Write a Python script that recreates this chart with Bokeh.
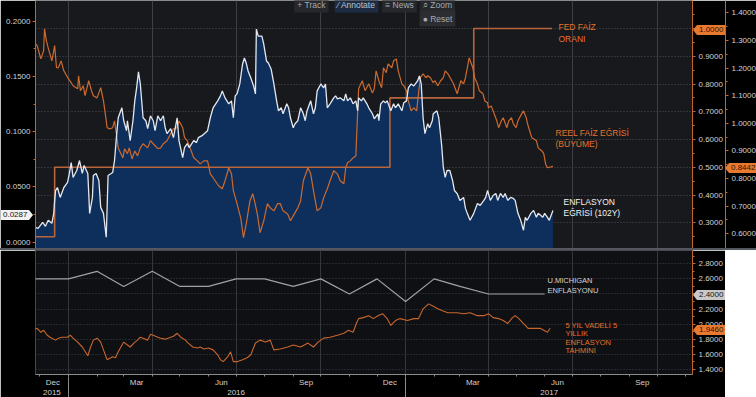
import pandas as pd
from bokeh.plotting import figure
from bokeh.models import (Range1d, LinearAxis, FixedTicker, PrintfTickFormatter,
                          Grid, Label, Div)
from bokeh.layouts import column
from bokeh.embed import file_html
from bokeh.resources import INLINE

ORIGIN = "2016-01-01"   # day offsets below are counted from this date

# ---------------- ENFLASYON EĞRİSİ (102Y)  (left axis) ----------------
enf_day = [-36, -33, -28, -25, -22, -18, -16, -15, -14, -12,
           -9, -5, -1, 1, 3, 5, 9, 12, 15, 17,
           21, 23, 26, 27, 30, 33, 35, 38, 41, 43,
           48, 50, 52, 54, 58, 60, 63, 64, 67, 70,
           72, 74, 76, 78, 81, 84, 86, 89, 92, 94,
           97, 100, 103, 105, 107, 111, 114, 118, 120, 124,
           126, 129, 131, 136, 139, 141, 145, 151, 154, 157,
           162, 165, 167, 170, 174, 177, 179, 181, 183, 186,
           189, 191, 193, 195, 198, 201, 203, 204, 206, 210,
           212, 215, 217, 220, 223, 226, 228, 231, 233, 237,
           239, 241, 244, 246, 249, 252, 255, 257, 259, 263,
           266, 268, 270, 274, 277, 279, 281, 284, 288, 290,
           292, 295, 299, 301, 303, 306, 309, 312, 314, 315,
           318, 320, 324, 326, 330, 332, 336, 337, 339, 342,
           344, 346, 350, 353, 355, 358, 362, 364, 367, 369,
           372, 375, 379, 381, 383, 385, 387, 390, 392, 395,
           396, 400, 402, 405, 407, 409, 411, 414, 417, 419,
           422, 425, 429, 431, 433, 436, 440, 442, 444, 447,
           451, 453, 455, 458, 461, 464, 466, 469, 472, 474,
           477, 480, 483, 485, 488, 491, 494, 496, 498, 502,
           505, 508, 510, 515, 517, 520, 522, 526]
enf_val = [0.0135, 0.0126, 0.0180, 0.0144, 0.0198, 0.0171, 0.0261, 0.0378, 0.0468, 0.0495,
           0.0405, 0.0495, 0.0541, 0.0622, 0.0721, 0.0586, 0.0649, 0.0739, 0.0622, 0.0694,
           0.0622, 0.0261, 0.0405, 0.0604, 0.0622, 0.0559, 0.0315, 0.0261, 0.0045, 0.0604,
           0.0631, 0.0739, 0.0946, 0.1126, 0.1216, 0.1099, 0.1009, 0.1099, 0.0919, 0.1099,
           0.1279, 0.1396, 0.1541, 0.1432, 0.1126, 0.1099, 0.1027, 0.1144, 0.1099, 0.1009,
           0.1144, 0.1099, 0.1144, 0.1036, 0.0982, 0.1027, 0.0946, 0.1126, 0.0919, 0.0766,
           0.0856, 0.0892, 0.0856, 0.0919, 0.0901, 0.0946, 0.0964, 0.1009, 0.1126, 0.1216,
           0.1279, 0.1324, 0.1369, 0.1306, 0.1252, 0.1279, 0.1126, 0.1324, 0.1342, 0.1432,
           0.1612, 0.1667, 0.1621, 0.1549, 0.1486, 0.1414, 0.1342, 0.1928, 0.1865, 0.1865,
           0.1793, 0.1640, 0.1621, 0.1568, 0.1432, 0.1279, 0.1189, 0.1216, 0.1162, 0.1252,
           0.1216, 0.1126, 0.1036, 0.1072, 0.1099, 0.1216, 0.1162, 0.1099, 0.1189, 0.1279,
           0.1162, 0.1216, 0.1369, 0.1432, 0.1396, 0.1432, 0.1216, 0.1252, 0.1306, 0.1324,
           0.1297, 0.1306, 0.1279, 0.1342, 0.1279, 0.1306, 0.1252, 0.1279, 0.1189, 0.1306,
           0.1279, 0.1306, 0.1252, 0.1216, 0.1162, 0.1117, 0.1162, 0.1099, 0.1252, 0.1279,
           0.1261, 0.1279, 0.1189, 0.1252, 0.1216, 0.1252, 0.1189, 0.1261, 0.1279, 0.1396,
           0.1432, 0.1414, 0.1459, 0.1504, 0.1432, 0.1126, 0.0982, 0.1072, 0.1036, 0.1099,
           0.1162, 0.1189, 0.1126, 0.0892, 0.0676, 0.0586, 0.0649, 0.0649, 0.0559, 0.0468,
           0.0441, 0.0378, 0.0405, 0.0306, 0.0261, 0.0198, 0.0261, 0.0306, 0.0351, 0.0333,
           0.0378, 0.0405, 0.0468, 0.0378, 0.0423, 0.0441, 0.0378, 0.0441, 0.0405, 0.0441,
           0.0378, 0.0405, 0.0396, 0.0378, 0.0261, 0.0198, 0.0108, 0.0225, 0.0198, 0.0261,
           0.0288, 0.0225, 0.0261, 0.0225, 0.0261, 0.0225, 0.0198, 0.0287]

# ---------------- REEL FAİZ EĞRİSİ (BÜYÜME)  (2nd right axis) ----------------
reel_day = [-36, -34, -30, -27, -26, -24, -22, -18, -16, -15,
            -13, -11, -8, -5, -2, 0, 3, 5, 10, 11,
            13, 16, 18, 22, 25, 27, 31, 35, 38, 40,
            42, 45, 48, 50, 52, 54, 59, 61, 64, 66,
            69, 72, 75, 78, 81, 86, 89, 92, 97, 100,
            103, 107, 111, 114, 118, 120, 124, 126, 129, 132,
            136, 140, 143, 147, 151, 154, 157, 163, 167, 170,
            174, 177, 179, 183, 187, 190, 193, 197, 200, 202,
            205, 208, 212, 216, 219, 223, 227, 230, 233, 238,
            241, 244, 249, 252, 255, 260, 263, 266, 270, 274,
            277, 281, 284, 288, 292, 295, 299, 301, 303, 306,
            309, 312, 314, 315, 319, 322, 326, 330, 332, 334,
            337, 340, 342, 345, 347, 351, 353, 356, 358, 362,
            364, 367, 369, 372, 375, 378, 380, 382, 385, 388,
            390, 393, 396, 398, 401, 404, 407, 409, 412, 415,
            418, 420, 422, 426, 429, 431, 433, 435, 439, 441,
            444, 446, 450, 452, 455, 456, 459, 461, 465, 467,
            470, 472, 476, 478, 481, 483, 486, 488, 492, 494,
            497, 499, 503, 505, 508, 510, 514, 516, 518, 520,
            526]
reel_val = [1.288, 1.281, 1.233, 1.262, 1.342, 1.299, 1.273, 1.226, 1.262, 1.281,
            1.201, 1.201, 1.226, 1.190, 1.172, 1.161, 1.147, 1.136, 1.125, 1.172,
            1.118, 1.136, 1.100, 1.154, 1.118, 1.100, 1.092, 1.129, 1.081, 1.034,
            0.984, 0.980, 0.984, 1.009, 0.962, 0.911, 0.875, 0.908, 0.890, 0.911,
            0.871, 0.900, 0.882, 0.911, 0.926, 0.911, 0.937, 0.926, 0.908, 0.911,
            0.926, 0.937, 0.962, 0.980, 0.984, 1.009, 0.984, 0.948, 0.937, 0.911,
            0.875, 0.864, 0.853, 0.864, 0.864, 0.817, 0.803, 0.774, 0.763, 0.792,
            0.839, 0.817, 0.756, 0.709, 0.658, 0.586, 0.636, 0.719, 0.745, 0.719,
            0.672, 0.604, 0.647, 0.709, 0.694, 0.683, 0.709, 0.709, 0.683, 0.672,
            0.647, 0.665, 0.694, 0.719, 0.792, 0.839, 0.817, 0.756, 0.683, 0.694,
            0.730, 0.763, 0.792, 0.828, 0.817, 0.792, 0.781, 0.839, 0.857, 0.864,
            0.875, 0.882, 1.045, 1.125, 1.154, 1.118, 1.143, 1.110, 1.125, 1.190,
            1.154, 1.129, 1.201, 1.183, 1.215, 1.201, 1.226, 1.233, 1.190, 1.143,
            1.136, 1.118, 1.081, 1.045, 1.056, 1.045, 1.107, 1.165, 1.179, 1.165,
            1.172, 1.165, 1.147, 1.154, 1.136, 1.154, 1.165, 1.190, 1.179, 1.161,
            1.143, 1.125, 1.107, 1.154, 1.143, 1.165, 1.201, 1.237, 1.201, 1.165,
            1.143, 1.118, 1.107, 1.081, 1.074, 1.056, 1.063, 1.045, 1.009, 0.984,
            1.009, 1.020, 0.984, 1.009, 1.020, 0.998, 0.984, 1.009, 1.034, 1.045,
            1.020, 0.991, 0.948, 0.944, 0.937, 0.911, 0.900, 0.890, 0.853, 0.839,
            0.8442]

# ---------------- FED FAİZ ORANI  (1st right axis) ----------------
fed_date = ["2015-11-01", "2015-12-17", "2016-12-15", "2017-03-16", "2017-06-09"]
fed_val = [0.25, 0.50, 0.75, 1.00, 1.00]

# ---------------- U.MICHIGAN ENFLASYONU  (lower panel) ----------------
umich_date = ["2015-11-01", "2015-12-01", "2016-01-01", "2016-02-01", "2016-03-01",
              "2016-04-01", "2016-05-01", "2016-06-01", "2016-07-01", "2016-08-01",
              "2016-09-01", "2016-10-01", "2016-11-01", "2016-12-01", "2017-01-01",
              "2017-02-01", "2017-03-01", "2017-04-01", "2017-05-01", "2017-06-01"]
umich_val = [2.6, 2.6, 2.6, 2.7, 2.5, 2.7, 2.5, 2.5, 2.6, 2.6,
             2.5, 2.6, 2.4, 2.6, 2.3, 2.6, 2.5, 2.4, 2.4, 2.4]

# ---------------- 5 YIL VADELİ 5 YILLIK ENFLASYON TAHMİNİ (lower panel) ----------------
be5_day = [-38, -34, -30, -27, -23, -20, -14, -11, -7, -1,
           2, 5, 10, 15, 21, 24, 27, 31, 35, 38,
           42, 48, 51, 54, 60, 64, 67, 71, 75, 78,
           81, 86, 89, 92, 97, 100, 105, 111, 114, 118,
           122, 127, 130, 135, 140, 143, 147, 152, 157, 162,
           165, 168, 173, 176, 179, 183, 189, 194, 198, 203,
           208, 214, 219, 223, 230, 238, 244, 252, 260, 266,
           271, 277, 284, 292, 299, 304, 309, 313, 315, 320,
           326, 331, 336, 341, 346, 350, 355, 360, 368, 375,
           380, 383, 385, 391, 395, 401, 406, 412, 417, 422,
           429, 436, 444, 451, 456, 461, 467, 472, 477, 482,
           485, 489, 493, 496, 499, 505, 512, 516, 520, 523]
be5_val = [1.919, 1.945, 1.893, 1.919, 1.854, 1.828, 1.789, 1.815, 1.828, 1.828,
           1.854, 1.815, 1.763, 1.698, 1.582, 1.698, 1.789, 1.815, 1.763, 1.660,
           1.530, 1.569, 1.556, 1.634, 1.763, 1.724, 1.698, 1.750, 1.789, 1.828,
           1.815, 1.789, 1.867, 1.854, 1.828, 1.815, 1.802, 1.828, 1.841, 1.880,
           1.828, 1.789, 1.750, 1.698, 1.685, 1.698, 1.672, 1.685, 1.660, 1.595,
           1.530, 1.504, 1.569, 1.634, 1.504, 1.504, 1.530, 1.556, 1.595, 1.750,
           1.789, 1.763, 1.789, 1.660, 1.672, 1.698, 1.724, 1.698, 1.750, 1.698,
           1.763, 1.815, 1.828, 1.854, 1.880, 1.919, 1.893, 2.022, 2.074, 2.087,
           2.113, 2.074, 2.113, 2.139, 2.074, 1.984, 2.048, 2.074, 2.048, 2.074,
           2.074, 2.152, 2.204, 2.269, 2.243, 2.204, 2.178, 2.152, 2.152, 2.152,
           2.139, 2.152, 2.113, 2.113, 2.139, 2.087, 2.074, 2.048, 2.009, 2.087,
           2.113, 2.074, 2.022, 1.984, 1.945, 1.945, 1.945, 1.919, 1.893, 1.946]

# ---------------- axis ticks / labels ----------------
left_ticks = [0.0, 0.05, 0.10, 0.15, 0.20]
left_minor = [0.025, 0.075, 0.125, 0.175]
fed_ticks = [0.3, 0.4, 0.5, 0.6, 0.7, 0.8, 0.9, 1.0]
fed_minor = [0.25, 0.35, 0.45, 0.55, 0.65, 0.75, 0.85, 0.95, 1.05]
reel_ticks = [0.6, 0.7, 0.8, 0.9, 1.0, 1.1, 1.2, 1.3, 1.4]
reel_minor = [0.65, 0.75, 0.85, 0.95, 1.05, 1.15, 1.25, 1.35]
low_ticks = [1.4, 1.6, 1.8, 2.0, 2.2, 2.4, 2.6, 2.8]
low_minor = [1.5, 1.7, 1.9, 2.1, 2.3, 2.5, 2.7, 2.9]
month_label_date = ["2015-12-15", "2016-03-15", "2016-06-15", "2016-09-15",
                    "2016-12-15", "2017-03-15", "2017-06-15", "2017-09-15"]
month_labels = ["Dec", "Mar", "Jun", "Sep", "Dec", "Mar", "Jun", "Sep"]
year_label_date = ["2015-12-14", "2016-07-01", "2017-06-06"]
year_labels = ["2015", "2016", "2017"]
year_sep_date = ["2016-01-01", "2017-01-01"]

# ---------------- helpers ----------------
def days_to_dates(days):
    return pd.to_datetime(days, unit="D", origin=ORIGIN)

def ms(d):
    return float(pd.Timestamp(d).value / 1e6)

BG = "#000000"
TOP_BG = "#17191d"
LOW_BG = "#0f1013"
AX_OR = "#c4652c"
BOX_OR = "#e8792f"
TXT = "#d2d2d2"
FONT = "Liberation Sans"
LEFT = 35
FW, FH1, FH2 = 657, 248, 124
LOW_TOP = FH1 + 2          # page y of the lower frame's top edge

def axis_style(color, standoff=3):
    return dict(axis_line_color=color, major_tick_line_color=color,
                minor_tick_line_color=color, major_tick_in=0, major_tick_out=3,
                minor_tick_in=0, minor_tick_out=2, major_label_standoff=standoff,
                major_label_text_color=TXT, major_label_text_font=FONT,
                major_label_text_font_size="8px")

xr = Range1d(start=pd.Timestamp("2015-11-26 05:00"), end=pd.Timestamp("2017-11-08 12:00"))
quarter_ms = [ms(d) for d in pd.date_range("2016-01-01", "2017-10-01", freq="QS")]
month_start_ms = [ms(d) for d in pd.date_range("2015-12-01", "2017-11-01", freq="MS")]

r_left = Range1d(-0.0057, 0.2187)
r_fed = Range1d(0.2075, 1.1009)
r_reel = Range1d(0.5468, 1.4445)
r_low = Range1d(1.3338, 2.976)

# ======================= top panel =======================
p1 = figure(frame_width=FW, frame_height=FH1, x_range=xr, y_range=r_left,
            x_axis_type=None, y_axis_type=None,
            toolbar_location=None, output_backend="svg",
            background_fill_color=TOP_BG, border_fill_color=BG, outline_line_color=None,
            min_border_left=LEFT, min_border_right=0, min_border_top=0, min_border_bottom=0)
p1.extra_y_ranges = {"fed": r_fed, "reel": r_reel}

p1.add_layout(LinearAxis(ticker=FixedTicker(ticks=left_ticks, minor_ticks=left_minor),
                         formatter=PrintfTickFormatter(format="%.4f"),
                         **axis_style(AX_OR, 2)), "left")
p1.add_layout(LinearAxis(y_range_name="fed",
                         ticker=FixedTicker(ticks=fed_ticks, minor_ticks=fed_minor),
                         formatter=PrintfTickFormatter(format="%.4f"),
                         **axis_style(AX_OR)), "right")
p1.add_layout(LinearAxis(y_range_name="reel",
                         ticker=FixedTicker(ticks=reel_ticks, minor_ticks=reel_minor),
                         formatter=PrintfTickFormatter(format="%.4f"),
                         **axis_style(AX_OR)), "right")

p1.add_layout(Grid(dimension=1, y_range_name="fed", ticker=FixedTicker(ticks=fed_ticks),
                   grid_line_color="#4c4f57", grid_line_dash="1 2"))
p1.add_layout(Grid(dimension=0, ticker=FixedTicker(ticks=quarter_ms),
                   grid_line_color="#3c3f47"))

enf_dates = days_to_dates(enf_day)
p1.varea(x=enf_dates, y1=-0.01, y2=enf_val, fill_color="#0e2f5c", fill_alpha=1.0)
p1.step(pd.to_datetime(fed_date), fed_val, mode="after", y_range_name="fed",
        line_color="#b8653c", line_width=1.6)
p1.line(days_to_dates(reel_day), reel_val, y_range_name="reel",
        line_color="#cc6a2e", line_width=1.2)
p1.line(enf_dates, enf_val, line_color="#e4e8ee", line_width=1.3)

def top_pos(rx, ry):
    return rx - LEFT, FH1 - ry

def low_pos(rx, ry):
    return rx - LEFT, FH2 - (ry - LOW_TOP)

def add_text(fig, pos, text, color, size):
    x, y = pos
    fig.add_layout(Label(x=x, y=y, x_units="screen", y_units="screen", text=text,
                         text_color=color, text_font=FONT, text_font_size=size,
                         text_align="left", text_baseline="middle"))

OR_TXT = "#e6732c"
add_text(p1, top_pos(558, 26), "FED FAİZ", OR_TXT, "8.5px")
add_text(p1, top_pos(558, 38), "ORANI", OR_TXT, "8.5px")
add_text(p1, top_pos(555, 132), "REEL FAİZ EĞRİSİ", OR_TXT, "8.5px")
add_text(p1, top_pos(555, 143), "(BÜYÜME)", OR_TXT, "8.5px")
add_text(p1, top_pos(563, 201), "ENFLASYON", "#f2f2f2", "8.5px")
add_text(p1, top_pos(563, 212), "EĞRİSİ (102Y)", "#f2f2f2", "8.5px")

def button(text, rcx, ry, bg, fg="#a6aab0"):
    x, y = top_pos(rcx, ry)
    p1.add_layout(Label(x=x, y=y, x_units="screen", y_units="screen", text=text,
                        text_color=fg, text_font=FONT, text_font_size="8.5px",
                        text_align="center", text_baseline="middle",
                        background_fill_color=bg, padding=3))

button("+ Track", 311, 4, "#26282c")
button("⁄ Annotate", 356, 4, "#1d2c42", "#b9c4d2")
button("≡ News", 399, 4, "#26282c")
button("⌕ Zoom", 437, 4, "#26282c")
button("● Reset", 437, 18, "#2b2d31")

# ======================= separator =======================
sep = Div(width=756, height=2, margin=(0, 0, 0, 0),
          styles={"background-color": "#54575d"})

# ======================= lower panel =======================
p2 = figure(frame_width=FW, frame_height=FH2, x_range=xr, y_range=r_low,
            x_axis_type=None, y_axis_type=None,
            toolbar_location=None, output_backend="svg",
            background_fill_color=LOW_BG, border_fill_color=BG, outline_line_color="#44474d",
            min_border_left=LEFT, min_border_right=0, min_border_top=0, min_border_bottom=0)

p2.add_layout(LinearAxis(ticker=FixedTicker(ticks=low_ticks, minor_ticks=low_minor),
                         formatter=PrintfTickFormatter(format="%.4f"),
                         **axis_style(AX_OR)), "right")

m_ms = [ms(d) for d in month_label_date]
month_axis = LinearAxis(ticker=FixedTicker(ticks=m_ms, minor_ticks=month_start_ms),
                        major_label_overrides=dict(zip(m_ms, month_labels)),
                        axis_line_color="#8c8c8c", major_tick_line_color=None,
                        major_tick_in=0, major_tick_out=0,
                        minor_tick_line_color="#8c8c8c", minor_tick_in=0, minor_tick_out=2,
                        major_label_standoff=1, major_label_text_color=TXT,
                        major_label_text_font=FONT, major_label_text_font_size="8px")
p2.add_layout(month_axis, "below")

y_ms = [ms(d) for d in year_label_date]
year_axis = LinearAxis(ticker=FixedTicker(ticks=y_ms, minor_ticks=[ms(d) for d in year_sep_date]),
                       major_label_overrides=dict(zip(y_ms, year_labels)),
                       axis_line_color=None, major_tick_line_color=None,
                       major_tick_in=0, major_tick_out=0,
                       minor_tick_line_color="#8c8c8c", minor_tick_in=13, minor_tick_out=11,
                       major_label_standoff=-11, major_label_text_color=TXT,
                       major_label_text_font=FONT, major_label_text_font_size="8px")
p2.add_layout(year_axis, "below")

p2.add_layout(Grid(dimension=1, ticker=FixedTicker(ticks=low_ticks),
                   grid_line_color="#3e4148", grid_line_dash="1 2"))
p2.add_layout(Grid(dimension=0, ticker=FixedTicker(ticks=quarter_ms),
                   grid_line_color="#34373e"))

p2.line(pd.to_datetime(umich_date), umich_val, line_color="#a0a2a6", line_width=1.2)
p2.line(days_to_dates(be5_day), be5_val, line_color="#c8662c", line_width=1.1)

add_text(p2, low_pos(547, 280), "U.MICHIGAN", "#d4d4d4", "7.5px")
add_text(p2, low_pos(547, 290), "ENFLASYONU", "#d4d4d4", "7.5px")
add_text(p2, low_pos(565, 325), "5 YIL VADELİ 5", OR_TXT, "7.5px")
add_text(p2, low_pos(565, 333), "YILLIK", OR_TXT, "7.5px")
add_text(p2, low_pos(565, 342), "ENFLASYON", OR_TXT, "7.5px")
add_text(p2, low_pos(565, 350), "TAHMİNİ", OR_TXT, "7.5px")

# ============ last-value markers on the axes (HTML overlays) ============
def value_marker(v, rng, fh, top, left, bg, fg, point="left"):
    cy = top + (rng.end - v) / (rng.end - rng.start) * fh
    tri_side = "border-right" if point == "left" else "border-left"
    tri = ('<div style="width:0;height:0;border-top:5px solid transparent;'
           'border-bottom:5px solid transparent;%s:4px solid %s;"></div>' % (tri_side, bg))
    box = ('<div style="background:%s;color:%s;font-family:\'Liberation Sans\';'
           'font-size:8px;line-height:10px;height:10px;padding:0 2px;">%.4f</div>'
           % (bg, fg, v))
    inner = tri + box if point == "left" else box + tri
    html = '<div style="display:flex;align-items:center;">%s</div>' % inner
    return Div(text=html, width=31, height=10, margin=(0, 0, 0, 0),
               styles={"position": "absolute", "left": "%dpx" % left,
                       "top": "%dpx" % round(cy - 5), "z-index": "10"})

markers = [
    value_marker(enf_val[-1], r_left, FH1, 0, 1, "#f2f2f2", "#111111", point="right"),
    value_marker(fed_val[-1], r_fed, FH1, 0, LEFT + FW + 1, BOX_OR, "#2a1405"),
    value_marker(reel_val[-1], r_reel, FH1, 0, LEFT + FW + 33, BOX_OR, "#2a1405"),
    value_marker(umich_val[-1], r_low, FH2, LOW_TOP, LEFT + FW + 1, "#c9c9c9", "#111111"),
    value_marker(be5_val[-1], r_low, FH2, LOW_TOP, LEFT + FW + 1, BOX_OR, "#2a1405"),
]

layout = column(p1, sep, p2, *markers, spacing=0)
open("out.html", "w").write(file_html(layout, INLINE))
